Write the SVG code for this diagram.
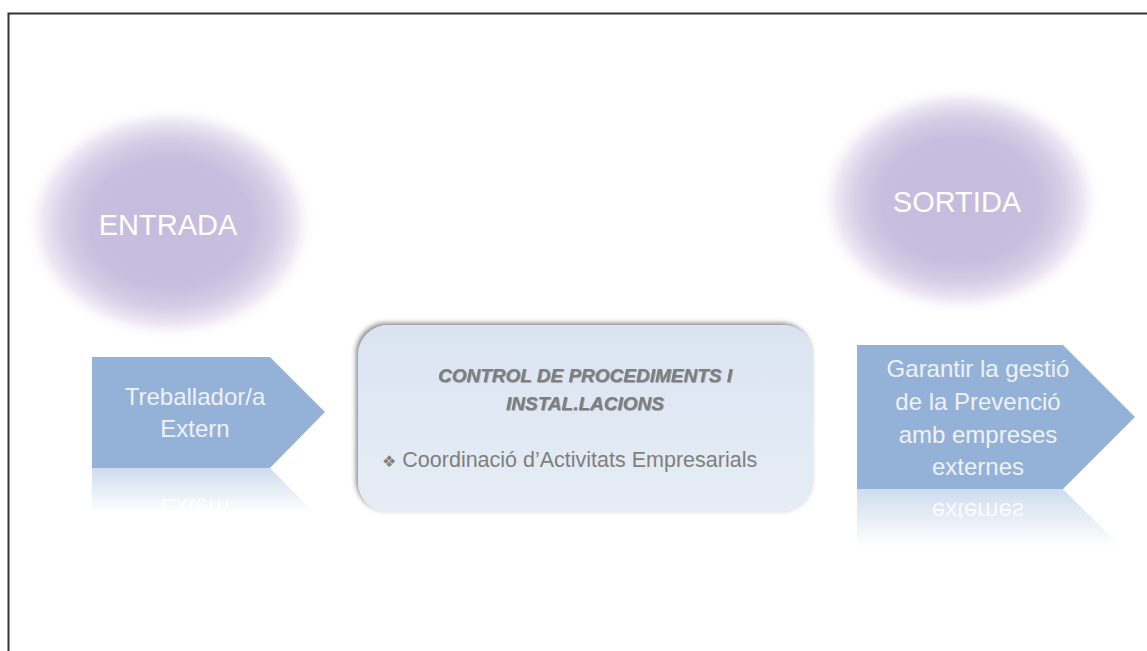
<svg xmlns="http://www.w3.org/2000/svg" width="1147" height="651" viewBox="0 0 1147 651">
<style>
.glowtxt{font-family:"Liberation Sans",Arial,sans-serif;font-size:29px;fill:#ffffff;text-anchor:middle}
.arrtxt{font-family:"Liberation Sans",Arial,sans-serif;font-size:24px;fill:#eef2f8;text-anchor:middle}
.arrow{fill:#94b1d8}
.title{font-family:"Liberation Sans",Arial,sans-serif;font-size:19px;font-weight:bold;font-style:italic;fill:#7f7f7f;text-anchor:middle}
.item{font-family:"Liberation Sans",Arial,sans-serif;font-size:21.5px;fill:#7f7f7f}
</style>
<defs>
<radialGradient id="glow" cx="0.5" cy="0.5" r="0.5">
<stop offset="0" stop-color="#c5bbdc"/>
<stop offset="0.55" stop-color="#c8bedf"/>
<stop offset="0.72" stop-color="#d6cee7"/>
<stop offset="0.86" stop-color="#ece7f4"/>
<stop offset="1" stop-color="#ffffff" stop-opacity="0"/>
</radialGradient>
<linearGradient id="boxfill" x1="0" y1="0" x2="0" y2="1">
<stop offset="0" stop-color="#dae4f1"/>
<stop offset="1" stop-color="#e6edf6"/>
</linearGradient>
<linearGradient id="fade" x1="0" y1="0" x2="0" y2="1">
<stop offset="0" stop-color="#fff" stop-opacity="0.45"/>
<stop offset="1" stop-color="#fff" stop-opacity="0"/>
</linearGradient>
<mask id="m1" maskUnits="userSpaceOnUse" x="0" y="468" width="1147" height="50">
<rect x="0" y="468" width="1147" height="45" fill="url(#fade)"/>
</mask>
<mask id="m2" maskUnits="userSpaceOnUse" x="0" y="489" width="1147" height="65">
<rect x="0" y="489" width="1147" height="58" fill="url(#fade)"/>
</mask>
<filter id="shadow" x="-10%" y="-20%" width="120%" height="140%">
<feDropShadow dx="-2" dy="-2" stdDeviation="2.5" flood-color="#444" flood-opacity="0.65"/>
</filter>
<filter id="tshadow" x="-5%" y="-20%" width="110%" height="140%">
<feDropShadow dx="0.6" dy="0.6" stdDeviation="0.5" flood-color="#333" flood-opacity="0.6"/>
</filter>
</defs>
<rect width="1147" height="651" fill="#ffffff"/>
<path d="M8.5,651 V13.5 H1147" fill="none" stroke="#333" stroke-width="2"/>

<g id="entrada">
<ellipse cx="170" cy="223" rx="147" ry="118" fill="url(#glow)"/>
<text class="glowtxt" x="168" y="235">ENTRADA</text>
</g>

<g id="sortida">
<ellipse cx="960" cy="200" rx="143" ry="115" fill="url(#glow)"/>
<text class="glowtxt" x="957" y="212">SORTIDA</text>
</g>

<g id="treballador">
<polygon class="arrow" points="92,357 270,357 325,412 270,468 92,468"/>
<text class="arrtxt" x="195" y="405">Treballador/a</text>
<text class="arrtxt" x="195" y="437">Extern</text>
<g mask="url(#m1)">
<g transform="translate(0,936) scale(1,-1)">
<polygon class="arrow" points="92,357 270,357 325,412 270,468 92,468"/>
<text class="arrtxt" x="195" y="437">Extern</text>
</g>
</g>
</g>

<g id="control">
<rect x="358" y="325" width="455" height="187" rx="30" ry="30" fill="url(#boxfill)" filter="url(#shadow)"/>
<text class="title" x="585" y="382" filter="url(#tshadow)">CONTROL DE PROCEDIMENTS I</text>
<text class="title" x="585" y="410" filter="url(#tshadow)">INSTAL.LACIONS</text>
<text class="item" x="382" y="467"><tspan font-family="DejaVu Sans, sans-serif" font-size="16px">❖</tspan> Coordinació d’Activitats Empresarials</text>
</g>

<g id="garantir">
<polygon class="arrow" points="857,345 1063,345 1135,417 1063,489 857,489"/>
<text class="arrtxt" x="978" y="377">Garantir la gestió</text>
<text class="arrtxt" x="978" y="410">de la Prevenció</text>
<text class="arrtxt" x="978" y="443">amb empreses</text>
<text class="arrtxt" x="978" y="475">externes</text>
<g mask="url(#m2)">
<g transform="translate(0,978) scale(1,-1)">
<polygon class="arrow" points="857,345 1063,345 1135,417 1063,489 857,489"/>
<text class="arrtxt" x="978" y="475">externes</text>
</g>
</g>
</g>

<g id="connectors"></g>
</svg>
